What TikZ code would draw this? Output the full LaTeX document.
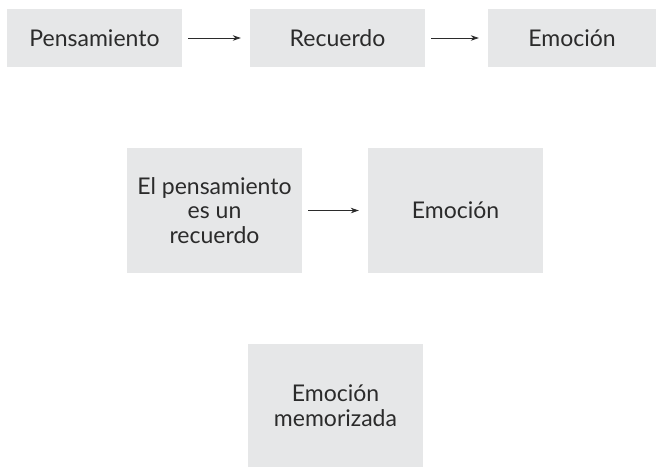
\documentclass[tikz,border=0pt]{standalone}
\usepackage{fontspec}
\setmainfont{Lato}
\usetikzlibrary{arrows.meta}
\definecolor{boxgray}{HTML}{E6E7E8}
\definecolor{txt}{HTML}{2B2B2B}
\tikzset{
  gbox/.style={fill=boxgray, draw=none, inner sep=0pt, align=center, text=txt,
    font=\fontsize{23}{24.5}\selectfont},
  conn/.style={draw=txt, line width=0.8pt, -{Stealth[length=8pt,width=5.5pt]},
    shorten <=6pt, shorten >=9pt}
}
\begin{document}
\begin{tikzpicture}[x=1pt,y=1pt]
\useasboundingbox (0,0) rectangle (656,-467);
\node[gbox, minimum width=175pt, minimum height=58pt] (p) at (94.5,-38) {Pensamiento};
\node[gbox, minimum width=175pt, minimum height=58pt] (r) at (337.5,-38) {Recuerdo};
\node[gbox, minimum width=168pt, minimum height=58pt] (e) at (572,-38) {Emoci\'on};
\node[gbox, minimum width=175pt, minimum height=125pt] (pr) at (214.5,-210.5) {El pensamiento\\es un\\recuerdo};
\node[gbox, minimum width=175pt, minimum height=125pt] (e2) at (455.5,-210.5) {Emoci\'on};
\node[gbox, minimum width=175pt, minimum height=123pt] (em) at (335.5,-405.5) {Emoci\'on\\memorizada};
\draw[conn] (p) -- (r);
\draw[conn] (r) -- (e);
\draw[conn] (pr) -- (e2);
\end{tikzpicture}
\end{document}
